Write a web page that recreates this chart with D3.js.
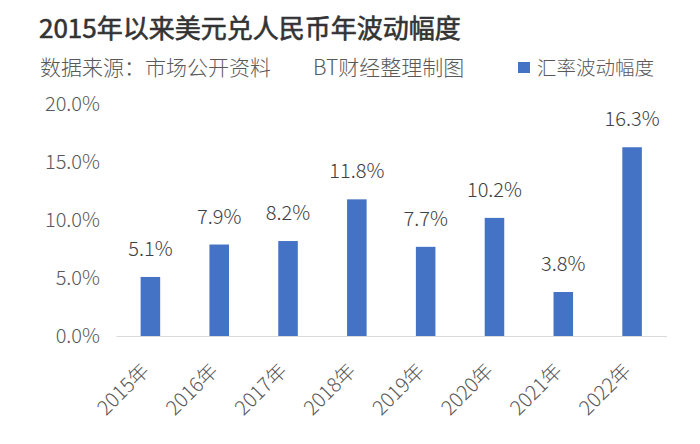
<!DOCTYPE html>
<html>
<head>
<meta charset="utf-8">
<script src="https://cdn.jsdelivr.net/npm/d3@7"></script>
<style>
  html, body { margin: 0; padding: 0; background: #fff; }
  svg { display: block; }
  text { font-family: "Noto Sans CJK SC", "Noto Sans", sans-serif; }
</style>
</head>
<body>
<svg id="chart" width="700" height="444"></svg>
<script>
// ---- data ----
const categories = ["2015年", "2016年", "2017年", "2018年", "2019年", "2020年", "2021年", "2022年"];
const values = [0.051, 0.079, 0.082, 0.118, 0.077, 0.102, 0.038, 0.163];
const yTicks = [0, 0.05, 0.10, 0.15, 0.20];
const titleText = "2015年以来美元兑人民币年波动幅度";
const sourceText = "数据来源：市场公开资料";
const creditText = "BT财经整理制图";
const seriesName = "汇率波动幅度";

const W = 700, H = 444;
const svg = d3.select("#chart");
const blue = "#4472C4";
const textGray = "#595959";

const x = d3.scaleBand().domain(categories).range([116, 666.5])
  .paddingInner(0.716).paddingOuter(0.358);
const y = d3.scaleLinear().domain([0, 0.2]).range([336, 104.4]);
const fmt = d3.format(".1%");

// title
svg.append("text").attr("x", 39).attr("y", 38)
  .attr("font-size", 26).attr("font-weight", 400).attr("fill", "#333")
  .attr("stroke", "#333").attr("stroke-width", 0.6)
  .text(titleText);
svg.append("text").attr("x", 40).attr("y", 75)
  .attr("font-size", 21).attr("fill", textGray).attr("font-weight", 300)
  .text(sourceText);
svg.append("text").attr("x", 313).attr("y", 75)
  .attr("font-size", 21).attr("fill", textGray).attr("font-weight", 300)
  .text(creditText);

// legend
svg.append("rect").attr("x", 518).attr("y", 62).attr("width", 12).attr("height", 11).attr("fill", blue);
svg.append("text").attr("x", 537).attr("y", 75)
  .attr("font-size", 19.5).attr("fill", textGray).attr("font-weight", 300)
  .text(seriesName);

// y axis (labels only)
const yAxis = d3.axisLeft(y).tickValues(yTicks).tickFormat(fmt).tickSize(0).tickPadding(0);
const yg = svg.append("g").attr("transform", "translate(100,0)").call(yAxis);
yg.select(".domain").remove();
yg.selectAll("text").attr("font-size", 20).attr("fill", textGray).attr("font-weight", 300)
  .attr("font-family", "\"Noto Sans CJK SC\", sans-serif");

// bars
svg.append("g").selectAll("rect").data(values).join("rect")
  .attr("x", (d, i) => x(categories[i]))
  .attr("y", d => y(d))
  .attr("width", x.bandwidth())
  .attr("height", d => y(0) - y(d))
  .attr("fill", blue);

// data labels
svg.append("g").selectAll("text").data(values).join("text")
  .attr("x", (d, i) => x(categories[i]) + x.bandwidth() / 2)
  .attr("y", d => y(d) - 21)
  .attr("text-anchor", "middle")
  .attr("font-size", 20).attr("fill", "#404040").attr("font-weight", 300)
  .text(d => fmt(d));

// x axis
const xAxis = d3.axisBottom(x).tickSize(0).tickPadding(0);
const xg = svg.append("g").attr("transform", `translate(0,${y(0)})`).call(xAxis);
xg.select(".domain").attr("stroke", "#d9d9d9").attr("stroke-width", 1.2);
xg.selectAll("text")
  .attr("font-size", 20).attr("fill", textGray).attr("font-weight", 300)
  .attr("font-family", "\"Noto Sans CJK SC\", sans-serif")
  .attr("text-anchor", "end")
  .attr("dy", null)
  .attr("y", 0)
  .attr("transform", "translate(0,36) rotate(-45)");
</script>
</body>
</html>
